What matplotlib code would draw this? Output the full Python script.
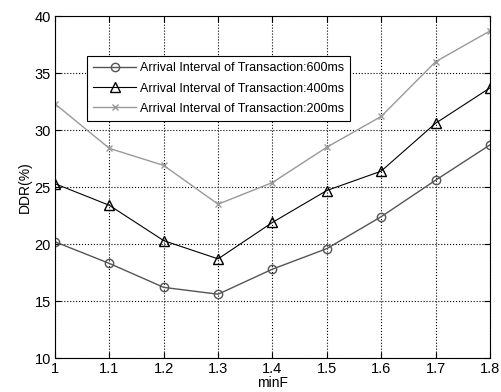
import matplotlib
matplotlib.use("Agg")
import matplotlib.pyplot as plt

plt.rcParams['font.family'] = ['Liberation Sans Narrow', 'Liberation Sans', 'DejaVu Sans']

min_f = [1.0, 1.1, 1.2, 1.3, 1.4, 1.5, 1.6, 1.7, 1.8]
ddr_600 = [20.2, 18.3, 16.2, 15.6, 17.8, 19.6, 22.4, 25.6, 28.7]
ddr_400 = [25.3, 23.4, 20.3, 18.7, 21.9, 24.7, 26.4, 30.6, 33.7]
ddr_200 = [32.3, 28.4, 26.9, 23.5, 25.4, 28.5, 31.2, 36.0, 38.7]

labels = ['Arrival Interval of Transaction:600ms',
          'Arrival Interval of Transaction:400ms',
          'Arrival Interval of Transaction:200ms']

fig = plt.figure(figsize=(5.01, 3.92), dpi=100)
ax = fig.add_axes([0.1098, 0.0867, 0.868, 0.872])

ax.plot(min_f, ddr_600, color='#555555', lw=1, marker='o', ms=6,
        mfc='none', mec='#555555', label=labels[0])
ax.plot(min_f, ddr_400, color='black', lw=0.8, marker='^', ms=7,
        mfc='none', mec='black', label=labels[1])
ax.plot(min_f, ddr_200, color='#999999', lw=1, marker='x', ms=5,
        mec='#999999', label=labels[2])

ax.set_xlim(1, 1.8)
ax.set_ylim(10, 40)
ax.set_xticks(min_f)
ax.set_xticklabels(['1', '1.1', '1.2', '1.3', '1.4', '1.5', '1.6', '1.7', '1.8'])
ax.set_yticks([10, 15, 20, 25, 30, 35, 40])
ax.grid(True, linestyle=':', color='black', lw=0.8)
ax.tick_params(direction='in', top=True, right=True, labelsize=10.5, length=4, pad=3)
ax.set_xlabel('minF', fontsize=10, labelpad=0)
ax.set_ylabel('DDR(%)', fontsize=10, labelpad=2)

leg = ax.legend(loc='upper left', bbox_to_anchor=(0.0736, 0.883), borderaxespad=0,
                fontsize=9, handlelength=3.4, handletextpad=0.3, fancybox=False,
                framealpha=1, edgecolor='black', labelspacing=0.65, borderpad=0.5)
leg.get_frame().set_linewidth(0.8)

fig.savefig('out.png', dpi=100)
